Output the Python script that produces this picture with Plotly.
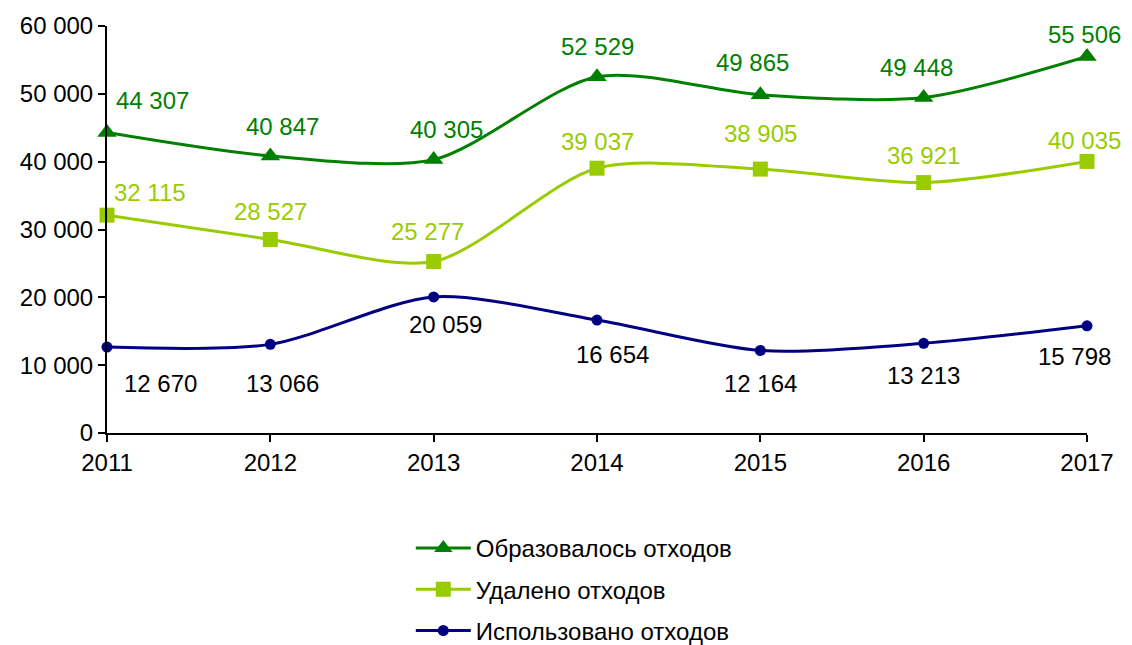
import plotly.graph_objects as go

years = [2011, 2012, 2013, 2014, 2015, 2016, 2017]
formed = [44307, 40847, 40305, 52529, 49865, 49448, 55506]
removed = [32115, 28527, 25277, 39037, 38905, 36921, 40035]
used = [12670, 13066, 20059, 16654, 12164, 13213, 15798]

names = ["Образовалось отходов", "Удалено отходов", "Использовано отходов"]
colors = ["#008000", "#99CC00", "#000080"]
symbols = ["triangle-up", "square", "circle"]
msizes = [17, 15, 11]
series = [formed, removed, used]

# label offsets (pixels) per series / point
xshifts = [
    [45, 12, 13, 0, -8, -7, -3],
    [43, 0, -6, 0, 0, 0, -3],
    [53, 12, 12, 15, 0, 0, -13],
]
yshifts = [
    [32, 29, 30, 30, 32, 30, 22],
    [23, 28, 30, 27, 36, 27, 21],
    [-36, -39, -28, -34, -33, -32, -31],
]

FONT = "Liberation Sans, Arial, sans-serif"
FS = 24

def fmt(v):
    return f"{v:,}".replace(",", " ")

fig = go.Figure()
annotations = []
for i, (nm, vals) in enumerate(zip(names, series)):
    fig.add_trace(go.Scatter(
        x=years, y=vals, name=nm, mode="lines+markers",
        line=dict(color=colors[i], width=3, shape="spline", smoothing=0.8),
        marker=dict(symbol=symbols[i], size=msizes[i], color=colors[i]),
        legendgroup=f"g{i}", cliponaxis=False,
    ))
    for j, (yr, v) in enumerate(zip(years, vals)):
        annotations.append(dict(
            x=yr, y=v, text=fmt(v), showarrow=False,
            xshift=xshifts[i][j], yshift=yshifts[i][j],
            font=dict(color="#000000" if i == 2 else colors[i], size=FS, family=FONT),
        ))

fig.update_layout(
    width=1132, height=645,
    margin=dict(l=99, r=53, t=18, b=220, autoexpand=False),
    plot_bgcolor="white", paper_bgcolor="white",
    font=dict(family=FONT, size=FS, color="#000000"),
    separators=". ",
    showlegend=True,
    legend=dict(
        orientation="v", x=0.31, xanchor="left", y=-0.2285, yanchor="top",
        traceorder="grouped", tracegroupgap=7,
        font=dict(size=FS), itemwidth=55,
    ),
    annotations=annotations,
    xaxis=dict(
        range=[2011, 2017], tickvals=years, ticktext=[str(y) for y in years],
        showgrid=False, zeroline=False, showline=True, linecolor="#000000",
        linewidth=2, ticks="outside", ticklen=7, tickwidth=2, tickcolor="#000000",
        tickfont=dict(size=FS), fixedrange=True, automargin=False,
    ),
    yaxis=dict(
        range=[0, 60000], dtick=10000, tickformat=",d",
        showgrid=False, zeroline=False, showline=True, linecolor="#000000",
        linewidth=2, ticks="outside", ticklen=7, tickwidth=2, tickcolor="#000000",
        tickfont=dict(size=FS), fixedrange=True, automargin=False,
    ),
)

fig.write_html("out.html")
